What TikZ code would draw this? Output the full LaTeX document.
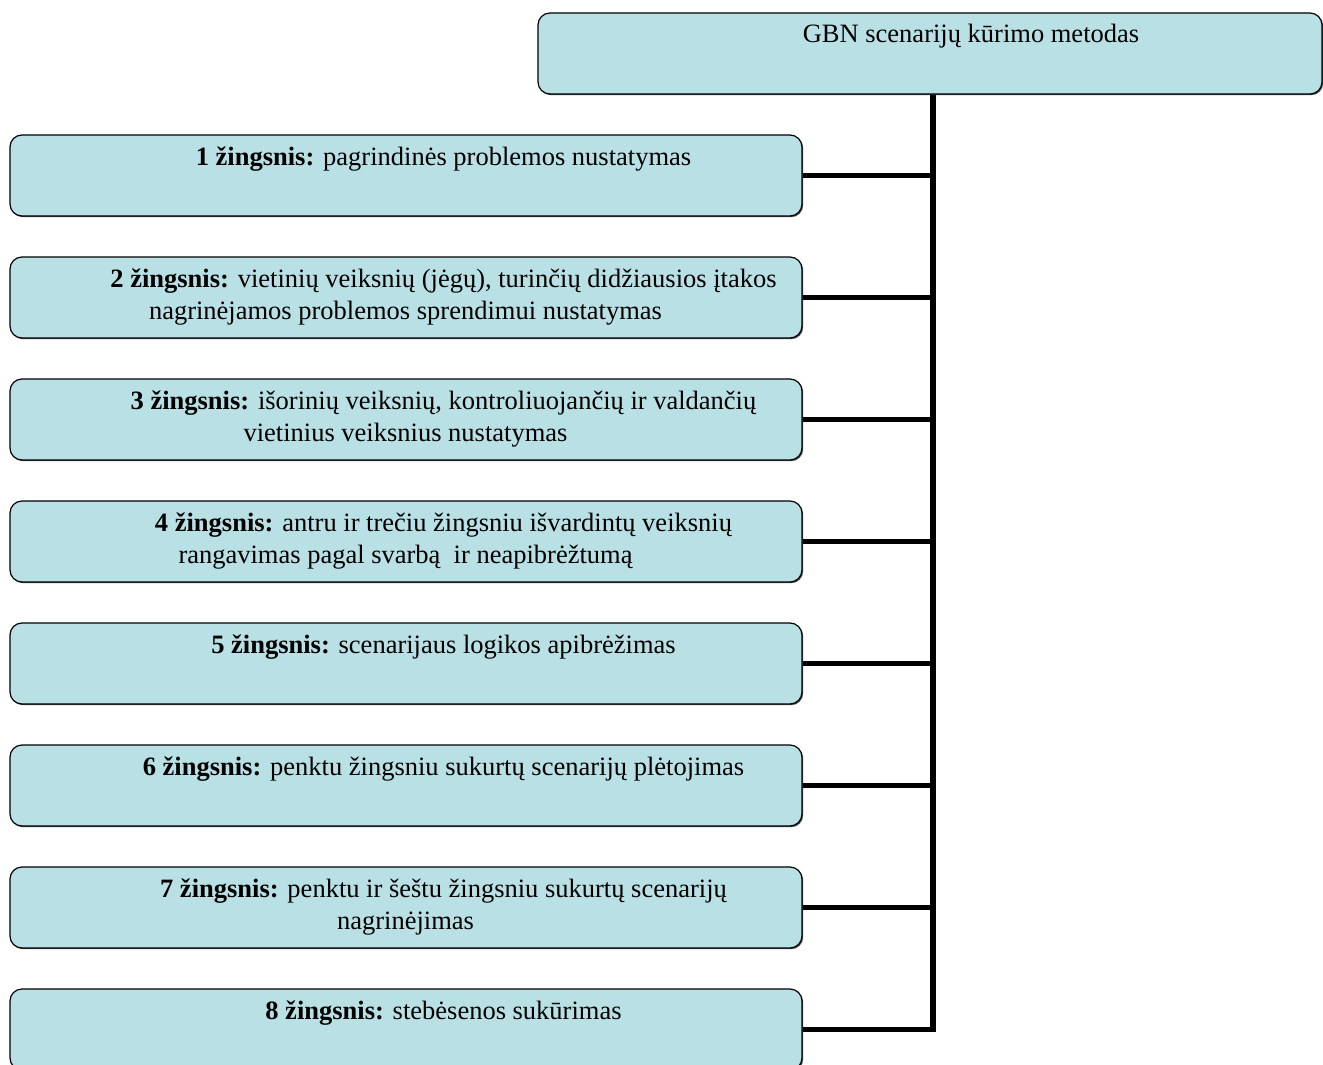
\documentclass[tikz,border=0pt]{standalone}
\usepackage{fontspec}
\setmainfont{Liberation Serif}
\usetikzlibrary{shadows}
\definecolor{boxfill}{RGB}{185,224,228}
\tikzset{
  stepbox/.style={draw=black, line width=1.2pt, fill=boxfill, rounded corners=12pt,
    inner sep=0pt, minimum width=792pt, minimum height=81pt,
    drop shadow={shadow xshift=1.2pt, shadow yshift=-1.2pt, fill=black!70, opacity=1}},
  headbox/.style={stepbox, minimum width=784pt},
  txt/.style={inner sep=0pt, anchor=base, font=\fontsize{26.5}{32}\selectfont},
  conn/.style={line width=5.5pt, line join=miter}
}
\begin{document}
\begin{tikzpicture}[x=1pt, y=-1pt]
\clip (0,0) rectangle (1323,1065);
\fill[white] (0,0) rectangle (1323,1065);
\coordinate (tx) at (933,0);

% connectors first, so the boxes cover their ends
\path (930,53.5) coordinate (topc);
\foreach \k in {1,...,8} {
  \coordinate (e\k) at (802,{135+122*(\k-1)+40.5});
}
\draw[conn] (930,94) -| (tx |- e8) -- (e8);
\foreach \k in {1,...,7} {
  \draw[conn] (e\k) -- (e\k -| tx);
}

% heading box
\node[headbox] (top) at (930,53.5) {};
\node[txt] (toptxt) at (971,43) {GBN scenarijų kūrimo metodas};

% step boxes
\foreach \k in {1,...,8} {
  \node[stepbox] (s\k) at (406,{135+122*(\k-1)+40.5}) {};
}

\node[txt] (t1) at (443.5,165) {\textbf{1 žingsnis:} pagrindinės problemos nustatymas};
\node[txt] (t2a) at (443.5,287) {\textbf{2 žingsnis:} vietinių veiksnių (jėgų), turinčių didžiausios įtakos};
\node[txt] (t2b) at (405.5,319) {nagrinėjamos problemos sprendimui nustatymas};
\node[txt] (t3a) at (443.5,409) {\textbf{3 žingsnis:} išorinių veiksnių, kontroliuojančių ir valdančių};
\node[txt] (t3b) at (405.5,441) {vietinius veiksnius nustatymas};
\node[txt] (t4a) at (443.5,531) {\textbf{4 žingsnis:} antru ir trečiu žingsniu išvardintų veiksnių};
\node[txt] (t4b) at (405.5,563) {rangavimas pagal svarbą\ \ ir neapibrėžtumą};
\node[txt] (t5) at (443.5,653) {\textbf{5 žingsnis:} scenarijaus logikos apibrėžimas};
\node[txt] (t6) at (443.5,775) {\textbf{6 žingsnis:} penktu žingsniu sukurtų scenarijų plėtojimas};
\node[txt] (t7a) at (443.5,897) {\textbf{7 žingsnis:} penktu ir šeštu žingsniu sukurtų scenarijų};
\node[txt] (t7b) at (405.5,929) {nagrinėjimas};
\node[txt] (t8) at (443.5,1019) {\textbf{8 žingsnis:} stebėsenos sukūrimas};
\end{tikzpicture}
\end{document}
